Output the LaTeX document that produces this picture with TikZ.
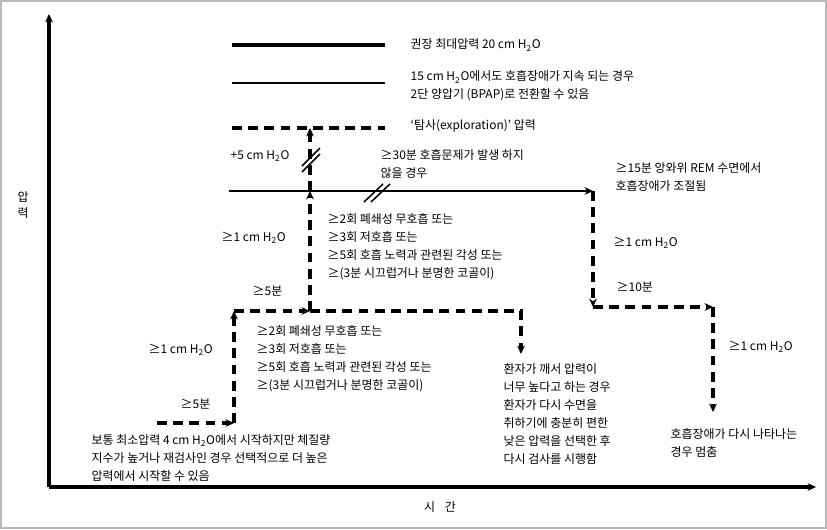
\documentclass[tikz,border=0pt]{standalone}
\usepackage{fontspec}
\setmainfont{Noto Sans CJK KR}
\usetikzlibrary{arrows.meta, calc, positioning}
\newcommand{\HtwoO}{H\textsubscript{2}O}

\begin{document}
\begin{tikzpicture}[x=0.025cm, y=-0.025cm, line width=1pt,
    txt/.style={anchor=west, inner sep=0pt, align=left, font=\fontsize{8.5}{12.8}\selectfont},
    dashline/.style={line width=2.5pt, dash pattern=on 7pt off 4.5pt},
    arr/.style={-{Stealth[length=6pt, width=5.5pt]}},
    brk/.style={line width=1.1pt}]
  \useasboundingbox (0,0) rectangle (827,529);
  \draw[gray!55, line width=1.4pt] (1,1) rectangle (826,528);

  % axes
  \coordinate (o) at (49,487);
  \coordinate (ytop) at (49,14);
  \coordinate (xend) at (816,487);
  \draw[line width=2.2pt, arr] (o) -- (ytop);
  \draw[line width=2.2pt, arr] (o) -- (xend);
  \node[txt, anchor=center, align=center, font=\fontsize{8.5}{10.7}\selectfont] (ylab) at (23,205) {압\\력};
  \node[txt, anchor=center] (xlab) at (440,507) {시\hspace{0.8em}간};

  % legend
  \coordinate (l1a) at (232,45);  \coordinate (l1b) at (385,45);
  \coordinate (l2a) at (232,83);  \coordinate (l2b) at (385,83);
  \coordinate (l3a) at (232,128); \coordinate (l3b) at (385,128);
  \draw[line width=3pt] (l1a) -- (l1b);
  \draw[line width=1.5pt] (l2a) -- (l2b);
  \draw[dashline] (l3a) -- (l3b);
  \node[txt] (max) at (410,45) {권장 최대압력 20 cm \HtwoO};
  \node[txt] (bpap) at (410,86) {15 cm \HtwoO 에서도 호흡장애가 지속 되는 경우\\2단 양압기 (BPAP)로 전환할 수 있음};
  \node[txt] (expl) at (410,126) {‘탐사(exploration)’ 압력};

  % titration steps
  \coordinate (s0) at (157,423);
  \coordinate (s1) at (234,423);
  \coordinate (s2) at (234,311);
  \coordinate (s3) at (310,311);
  \coordinate (s4) at (521,311);
  \coordinate (s5) at (521,354);
  \coordinate (v1) at (310,191);
  \coordinate (v2) at (310,128);
  \coordinate (h0) at (229,191);
  \coordinate (h1) at (593,191);
  \coordinate (h2) at (593,307);
  \coordinate (h3) at (713,307);
  \coordinate (h4) at (713,412);

  \draw[dashline, arr] (s0) -- (s1);
  \draw[dashline, arr] (s1) -- (s2);
  \draw[dashline, arr] (s2) -- (s3);
  \draw[dashline, arr] (s3) -- (s4) -- (s5);
  \draw[dashline, arr] (s3) -- (v1);
  \draw[dashline, arr] (v1) -- (v2);
  \draw[line width=1.7pt, arr] (h0) -- (h1);
  \draw[dashline, arr] (h1) -- (h2);
  \draw[dashline, arr] (h2) -- (h3);
  \draw[dashline, arr] (h3) -- (h4);

  % break marks
  \draw[brk] (302,166) -- (320,148);
  \draw[brk] (302,172) -- (320,154);
  \draw[brk] (364,202) -- (383,184);
  \draw[brk] (371,202) -- (390,184);

  % labels
  \node[txt] (up5) at (230,156) {+5 cm \HtwoO};
  \node[txt] (no30) at (380,164) {≥30분 호흡문제가 발생 하지\\않을 경우};
  \node[txt] (rem15) at (615,177) {≥15분 앙와위 REM 수면에서\\호흡장애가 조절됨};
  \node[txt] (inc1) at (221,238) {≥1 cm \HtwoO};
  \node[txt] (ev1) at (327,247) {≥2회 폐쇄성 무호흡 또는\\≥3회 저호흡 또는\\≥5회 호흡 노력과 관련된 각성 또는\\≥(3분 시끄럽거나 분명한 코골이)};
  \node[txt] (min5a) at (252,291) {≥5분};
  \node[txt] (ev2) at (256,359) {≥2회 폐쇄성 무호흡 또는\\≥3회 저호흡 또는\\≥5회 호흡 노력과 관련된 각성 또는\\≥(3분 시끄럽거나 분명한 코골이)};
  \node[txt] (inc2) at (148,350) {≥1 cm \HtwoO};
  \node[txt] (min5b) at (180,404) {≥5분};
  \node[txt] (start) at (91,458) {보통 최소압력 4 cm \HtwoO 에서 시작하지만 체질량\\지수가 높거나 재검사인 경우 선택적으로 더 높은\\압력에서 시작할 수 있음};
  \node[txt] (wake) at (503,414) {환자가 깨서 압력이\\너무 높다고 하는 경우\\환자가 다시 수면을\\취하기에 충분히 편한\\낮은 압력을 선택한 후\\다시 검사를 시행함};
  \node[txt] (inc3) at (613,243) {≥1 cm \HtwoO};
  \node[txt] (min10) at (616,287) {≥10분};
  \node[txt] (inc4) at (728,347) {≥1 cm \HtwoO};
  \node[txt] (stop) at (670,443) {호흡장애가 다시 나타나는\\경우 멈춤};
\end{tikzpicture}
\end{document}
